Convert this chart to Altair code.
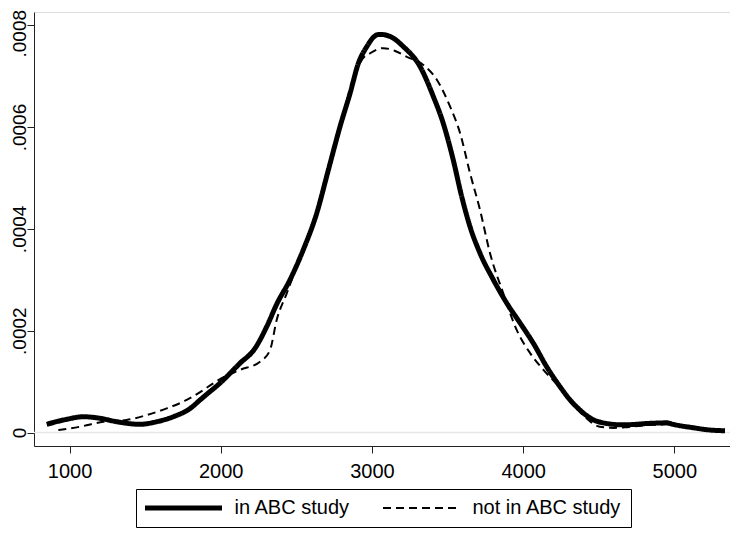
import altair as alt
import pandas as pd

# ---- data (density values in units of 1e-4) ----
in_x = [849, 981, 1091, 1202, 1312, 1466, 1577, 1687, 1799, 1863, 1907, 1995, 2127, 2226,
        2304, 2370, 2458, 2546, 2635, 2712, 2789, 2855, 2910, 2966, 3032, 3054, 3120, 3208,
        3318, 3406, 3472, 3538, 3594, 3649, 3715, 3803, 3892, 3980, 4068, 4156, 4244, 4310,
        4355, 4464, 4529, 4661, 4840, 4950, 4992, 5124, 5236, 5335]
in_y = [0.161, 0.259, 0.310, 0.279, 0.212, 0.161, 0.212, 0.310, 0.475, 0.639, 0.75, 0.97,
        1.36, 1.65, 2.08, 2.52, 3.00, 3.59, 4.31, 5.16, 6.01, 6.66, 7.25, 7.58, 7.81, 7.82,
        7.78, 7.58, 7.19, 6.60, 6.07, 5.35, 4.63, 4.04, 3.52, 3.00, 2.54, 2.15, 1.75, 1.29,
        0.90, 0.64, 0.50, 0.25, 0.19, 0.15, 0.18, 0.19, 0.16, 0.094, 0.049, 0.035]

out_x = [926, 1069, 1224, 1378, 1511, 1643, 1775, 1885, 1951, 1995, 2127, 2260, 2326, 2370,
         2436, 2503, 2558, 2701, 2811, 2877, 2933, 2988, 3075, 3150, 3230, 3340, 3429, 3517,
         3583, 3649, 3715, 3781, 3869, 3958, 4046, 4134, 4244, 4310, 4400, 4500, 4600, 4700,
         4850, 4950, 5100, 5250, 5320]
out_y = [0.049, 0.114, 0.212, 0.246, 0.344, 0.475, 0.639, 0.835, 0.967, 1.05, 1.23, 1.39,
         1.62, 2.21, 2.73, 3.26, 3.65, 5.03, 6.27, 6.93, 7.32, 7.45, 7.55, 7.50, 7.38, 7.22,
         6.93, 6.40, 5.88, 5.09, 4.37, 3.52, 2.73, 2.01, 1.56, 1.23, 0.88, 0.62, 0.33, 0.12,
         0.09, 0.11, 0.15, 0.16, 0.10, 0.05, 0.04]

groups = ["in ABC study", "not in ABC study"]
x_ticks = [1000, 2000, 3000, 4000, 5000]
y_ticks = [0, 0.0002, 0.0004, 0.0006, 0.0008]

rows = []
for i, (a, b) in enumerate(zip(in_x, in_y)):
    rows.append({"x": a, "y": b * 1e-4, "group": groups[0], "order": i})
for i, (a, b) in enumerate(zip(out_x, out_y)):
    rows.append({"x": a, "y": b * 1e-4, "group": groups[1], "order": i})
df = pd.DataFrame(rows)

FONT = "Liberation Sans"
x_scale = alt.Scale(domain=[765, 5368], nice=False, zero=False)
y_scale = alt.Scale(domain=[-0.0000265, 0.000826], nice=False, zero=False)

x_axis = alt.Axis(values=x_ticks, title=None, grid=False, format="d",
                  labelFont=FONT, labelFontSize=20, labelColor="black",
                  tickSize=7, labelPadding=8, domainColor="#222",
                  tickColor="#222", labelFlush=False)
y_axis = alt.Axis(values=y_ticks, title=None, grid=False,
                  labelExpr="datum.value == 0 ? '0' : replace(format(datum.value, '.4f'), '0.', '.')",
                  labelAngle=-90, labelAlign="center", labelBaseline="alphabetic",
                  labelOffset={"condition": {"test": "datum.value > 0.00079", "value": 8},
                               "value": 0},
                  labelFont=FONT, labelFontSize=19, labelColor="black",
                  tickSize=7, labelPadding=2, domainColor="#222", tickColor="#222",
                  labelFlush=False)

zero_line = alt.Chart(pd.DataFrame({"y": [0.0]})).mark_rule(
    color="#e6e6e6", strokeWidth=1.5
).encode(y=alt.Y("y:Q", scale=y_scale, axis=y_axis))

leg = dict(
    title=None, orient="none", legendX=102, legendY=477, direction="horizontal",
    columns=2, symbolType="M-5.5,0H5.5", symbolSize=196, symbolStrokeColor="black",
    symbolOffset=28.5, labelFont=FONT, labelFontSize=20, labelColor="black",
    labelOffset=41, labelLimit=400, columnPadding=28, padding=9,
    strokeColor="black", cornerRadius=0, fillColor="white",
)

lines = alt.Chart(df).mark_line(color="black", strokeJoin="round",
                                interpolate="monotone").encode(
    x=alt.X("x:Q", scale=x_scale, axis=x_axis),
    y=alt.Y("y:Q", scale=y_scale, axis=y_axis),
    strokeDash=alt.StrokeDash("group:N",
                              scale=alt.Scale(domain=groups, range=[[1, 0], [8, 5]]),
                              legend=alt.Legend(**leg)),
    strokeWidth=alt.StrokeWidth("group:N",
                                scale=alt.Scale(domain=groups, range=[5, 2]),
                                legend=alt.Legend(**leg)),
    order="order:Q",
)

chart = alt.layer(zero_line, lines).properties(
    width=696, height=434,
    autosize=alt.AutoSizeParams(type="none"),
    padding={"left": 26, "top": 4, "right": 0, "bottom": 83},
).configure_view(strokeOpacity=0, strokeWidth=0).configure(background="white")

chart.save("out.html", embed_options={"renderer": "svg", "actions": False})
